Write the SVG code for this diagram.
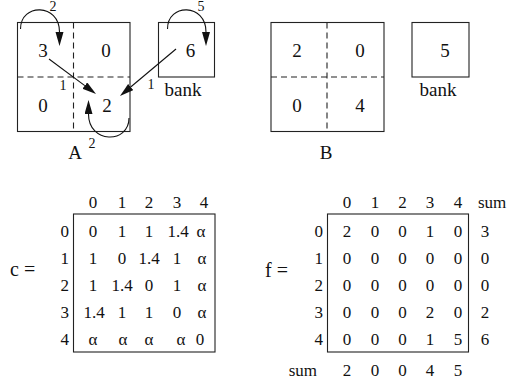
<svg xmlns="http://www.w3.org/2000/svg" width="507" height="383" viewBox="0 0 507 383">
  <style>
    text { font-family: "Liberation Serif", "Times New Roman", serif; fill: #111; }
    .big { font-size: 19px; text-anchor: middle; }
    .lbl { font-size: 20px; }
    .small { font-size: 14px; text-anchor: middle; }
    .m { font-size: 17px; text-anchor: middle; }
    .r { font-size: 17px; text-anchor: end; }
    .box { fill: none; stroke: #222; stroke-width: 1.1; }
    .dash { fill: none; stroke: #222; stroke-width: 1.1; stroke-dasharray: 6 4; }
    .edge { fill: none; stroke: #111; stroke-width: 1.1; marker-end: url(#head); }
  </style>
  <defs>
    <marker id="head" markerUnits="userSpaceOnUse" markerWidth="15" markerHeight="9" refX="0" refY="4" orient="auto">
      <path d="M0,0 L14,4 L0,8 z" fill="#111"/>
    </marker>
  </defs>

  <!-- grid A -->
  <g id="gridA">
    <rect class="box" x="17.5" y="22.5" width="112.5" height="109"/>
    <line class="dash" x1="73.5" y1="22.5" x2="73.5" y2="131.5"/>
    <line class="dash" x1="17.5" y1="77" x2="130" y2="77"/>
    <text class="big" x="43" y="57">3</text>
    <text class="big" x="106" y="57">0</text>
    <text class="big" x="43" y="112">0</text>
    <text class="big" x="107" y="112">2</text>
    <text class="big" x="75" y="159">A</text>
  </g>
  <g id="bankA">
    <rect class="box" x="158.5" y="22.5" width="56" height="54.5"/>
    <text class="big" x="190.5" y="57">6</text>
    <text class="big" x="183" y="96">bank</text>
  </g>

  <!-- moves in A -->
  <g id="moves">
    <path class="edge" d="M20.5,29 C20.5,3 59.5,3 59.5,32"/>
    <path class="edge" d="M167.5,29 C167.5,3 206,3 206,32"/>
    <path class="edge" d="M129,118 C129,144 88.5,144 88.5,114"/>
    <path class="edge" d="M49,59 L84.8,85.6"/>
    <path class="edge" d="M176,49 L130.7,87"/>
    <text class="small" x="53" y="11">2</text>
    <text class="small" x="201" y="11">5</text>
    <text class="small" x="63" y="90">1</text>
    <text class="small" x="151" y="89">1</text>
    <text class="small" x="92" y="148">2</text>
  </g>

  <!-- grid B -->
  <g id="gridB">
    <rect class="box" x="271" y="22.5" width="113" height="109"/>
    <line class="dash" x1="327" y1="22.5" x2="327" y2="131.5"/>
    <line class="dash" x1="271" y1="77" x2="384" y2="77"/>
    <text class="big" x="297" y="57">2</text>
    <text class="big" x="360" y="57">0</text>
    <text class="big" x="297" y="112">0</text>
    <text class="big" x="360" y="112">4</text>
    <text class="big" x="326" y="159">B</text>
  </g>
  <g id="bankB">
    <rect class="box" x="412" y="22.5" width="57" height="54.5"/>
    <text class="big" x="445" y="57">5</text>
    <text class="big" x="438" y="96">bank</text>
  </g>

  <!-- cost matrix c -->
  <g id="matrixC">
    <text class="lbl" x="10" y="276">c =</text>
    <rect class="box" x="73.5" y="214" width="141.5" height="138"/>
    <g class="m">
      <text x="93" y="208">0</text><text x="122" y="208">1</text><text x="149" y="208">2</text><text x="177" y="208">3</text><text x="204" y="208">4</text>
    </g>
    <g>
      <text class="r" x="69" y="237">0</text>
      <text class="r" x="69" y="264">1</text>
      <text class="r" x="69" y="291">2</text>
      <text class="r" x="69" y="318">3</text>
      <text class="r" x="69" y="345">4</text>
    </g>
    <g class="m">
      <text x="93" y="237">0</text><text x="122" y="237">1</text><text x="149" y="237">1</text><text x="178" y="237">1.4</text><text x="201" y="237">α</text>
      <text x="93" y="264">1</text><text x="122" y="264">0</text><text x="149" y="264">1.4</text><text x="177" y="264">1</text><text x="202" y="264">α</text>
      <text x="93" y="291">1</text><text x="122" y="291">1.4</text><text x="149" y="291">0</text><text x="177" y="291">1</text><text x="202" y="291">α</text>
      <text x="94" y="318">1.4</text><text x="122" y="318">1</text><text x="149" y="318">1</text><text x="177" y="318">0</text><text x="202" y="318">α</text>
      <text x="93" y="345">α</text><text x="123" y="345">α</text><text x="149" y="345">α</text><text x="181" y="345">α</text><text x="200" y="345">0</text>
    </g>
  </g>

  <!-- flow matrix f -->
  <g id="matrixF">
    <text class="lbl" x="265" y="277">f =</text>
    <rect class="box" x="327.5" y="214" width="141" height="138"/>
    <g class="m">
      <text x="347" y="208">0</text><text x="375" y="208">1</text><text x="402.5" y="208">2</text><text x="430" y="208">3</text><text x="458" y="208">4</text>
    </g>
    <text x="478" y="208" style="font-size:17px">sum</text>
    <g>
      <text class="r" x="323" y="237">0</text>
      <text class="r" x="323" y="264">1</text>
      <text class="r" x="323" y="291">2</text>
      <text class="r" x="323" y="318">3</text>
      <text class="r" x="323" y="345">4</text>
    </g>
    <g class="m">
      <text x="347" y="237">2</text><text x="375" y="237">0</text><text x="402.5" y="237">0</text><text x="430" y="237">1</text><text x="458" y="237">0</text><text x="485" y="237">3</text>
      <text x="347" y="264">0</text><text x="375" y="264">0</text><text x="402.5" y="264">0</text><text x="430" y="264">0</text><text x="458" y="264">0</text><text x="485" y="264">0</text>
      <text x="347" y="291">0</text><text x="375" y="291">0</text><text x="402.5" y="291">0</text><text x="430" y="291">0</text><text x="458" y="291">0</text><text x="485" y="291">0</text>
      <text x="347" y="318">0</text><text x="375" y="318">0</text><text x="402.5" y="318">0</text><text x="430" y="318">2</text><text x="458" y="318">0</text><text x="485" y="318">2</text>
      <text x="347" y="345">0</text><text x="375" y="345">0</text><text x="402.5" y="345">0</text><text x="430" y="345">1</text><text x="458" y="345">5</text><text x="485" y="345">6</text>
      <text x="347" y="376">2</text><text x="375" y="376">0</text><text x="402.5" y="376">0</text><text x="430" y="376">4</text><text x="458" y="376">5</text>
    </g>
    <text class="r" x="317" y="376">sum</text>
  </g>
</svg>
